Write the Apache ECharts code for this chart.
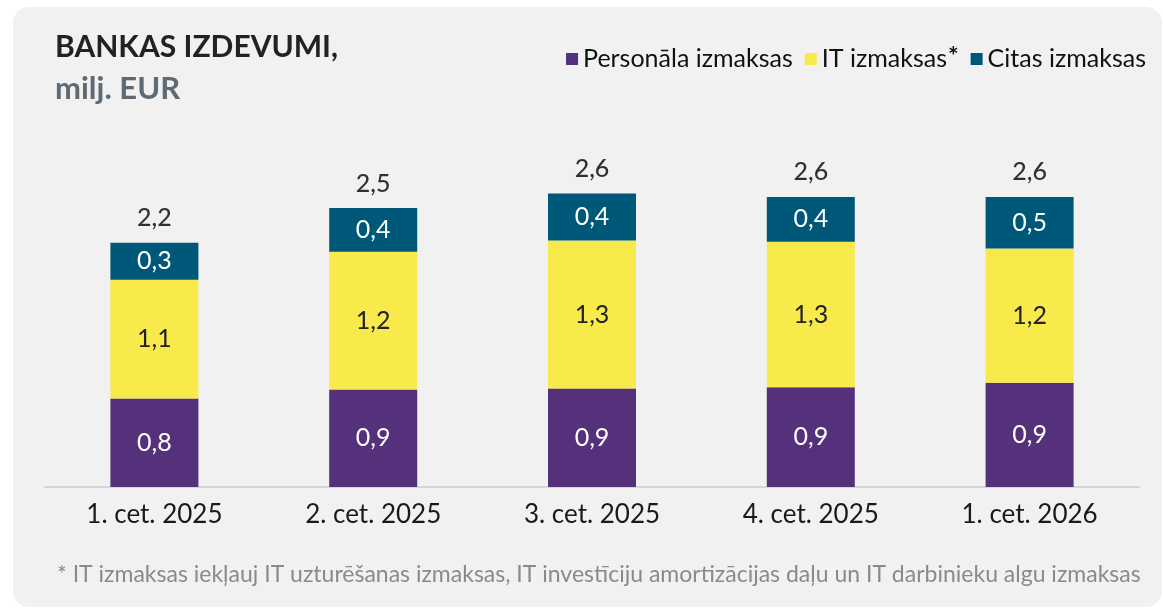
<!DOCTYPE html>
<html>
<head>
<meta charset="utf-8">
<script src="https://cdn.jsdelivr.net/npm/echarts@6/dist/echarts.min.js"></script>
<style>
  html, body { margin: 0; padding: 0; background: #fff; }
  #chart { width: 1163px; height: 612px; }
</style>
</head>
<body>
<div id="chart"></div>
<script>
// ceturkšņi
const categories = ['1. cet. 2025', '2. cet. 2025', '3. cet. 2025', '4. cet. 2025', '1. cet. 2026'];
// milj. EUR, nolasīts no attēla
const personals = [0.79, 0.87, 0.88, 0.89, 0.93];
const itCosts = [1.06, 1.23, 1.32, 1.30, 1.20];
const other = [0.33, 0.39, 0.42, 0.40, 0.46];

const totals = categories.map((c, i) => +(personals[i] + itCosts[i] + other[i]).toFixed(2));

const FONT = 'Lato, "Noto Sans", sans-serif';
const fmt = v => v.toFixed(1).replace('.', ',');

const chart = echarts.init(document.getElementById('chart'));

function barLabel(color) {
  return {
    show: true,
    position: 'inside',
    color: color,
    fontFamily: FONT,
    fontSize: 25,
    formatter: p => fmt(p.value)
  };
}

let option = {
  backgroundColor: '#ffffff',
  animation: false,
  graphic: [
    {
      type: 'rect',
      z: -10,
      shape: { x: 13, y: 7, width: 1149, height: 600, r: 16 },
      style: { fill: '#f1f1f1' }
    },
    {
      type: 'text',
      style: {
        x: 55, y: 47, text: 'BANKAS IZDEVUMI,',
        font: 'bold 30px ' + FONT, fill: '#222222',
        textVerticalAlign: 'middle'
      }
    },
    {
      type: 'text',
      style: {
        x: 55, y: 89, text: 'milj. EUR',
        font: 'bold 31px ' + FONT, fill: '#5f6a74',
        textVerticalAlign: 'middle'
      }
    },
    {
      type: 'text',
      style: {
        x: 57, y: 575,
        text: '* IT izmaksas iekļauj IT uzturēšanas izmaksas, IT investīciju amortizācijas daļu un IT darbinieku algu izmaksas',
        font: '23px ' + FONT, fill: '#8a8a8a',
        textVerticalAlign: 'middle'
      }
    }
  ],
  legend: {
    data: ['Personāla izmaksas', 'IT izmaksas', 'Citas izmaksas'],
    right: 12,
    top: 39,
    itemWidth: 12,
    itemHeight: 12,
    itemGap: 12,
    icon: 'rect',
    formatter: name => name === 'IT izmaksas' ? '{n|' + name + '}{s|*}' : '{n|' + name + '}',
    textStyle: {
      fontFamily: FONT,
      color: '#111111',
      rich: {
        n: { fontFamily: FONT, fontSize: 25, color: '#111111', lineHeight: 30 },
        s: { fontFamily: FONT, fontSize: 25, fontWeight: 'bold', color: '#111111', verticalAlign: 'top', lineHeight: 20, padding: [0, 0, 0, 1] }
      }
    }
  },
  grid: { left: 45, right: 24, top: 151, bottom: 125 },
  xAxis: {
    type: 'category',
    data: categories,
    axisTick: { show: false },
    axisLine: { lineStyle: { color: '#d6d6d6', width: 2 } },
    axisLabel: { color: '#1a1a1a', fontFamily: FONT, fontSize: 26, margin: 15 }
  },
  yAxis: { type: 'value', min: 0, max: 3, show: false },
  series: [
    {
      name: 'Personāla izmaksas', type: 'bar', stack: 'a', barWidth: 88,
      itemStyle: { color: '#54317a' },
      label: barLabel('#ffffff'),
      data: personals
    },
    {
      name: 'IT izmaksas', type: 'bar', stack: 'a', barWidth: 88,
      itemStyle: { color: '#f7ea4a' },
      label: barLabel('#222222'),
      data: itCosts
    },
    {
      name: 'Citas izmaksas', type: 'bar', stack: 'a', barWidth: 88,
      itemStyle: { color: '#005878' },
      label: barLabel('#ffffff'),
      data: other
    },
    {
      name: 'Kopā', type: 'scatter', symbolSize: 0,
      itemStyle: { color: 'rgba(0,0,0,0)' },
      label: {
        show: true, position: 'top', distance: 12,
        color: '#000000', fontFamily: FONT, fontSize: 25, fontWeight: 500,
        formatter: p => fmt(p.value)
      },
      data: totals
    }
  ]
};

chart.setOption(option);
</script>
</body>
</html>
